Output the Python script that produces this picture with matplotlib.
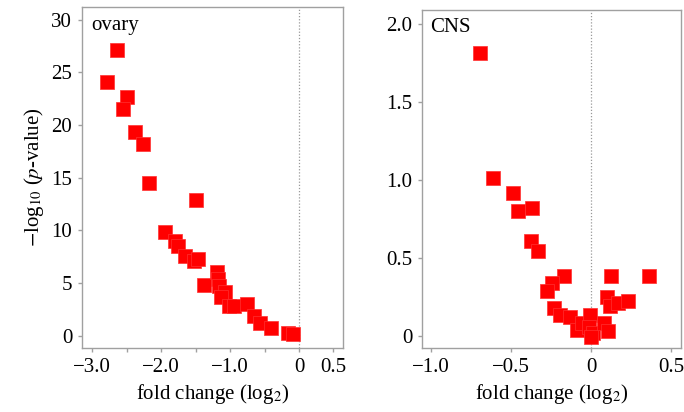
import matplotlib
matplotlib.use("Agg")
import matplotlib.pyplot as plt

plt.rcParams["font.family"] = ["Liberation Serif", "DejaVu Serif"]
plt.rcParams["mathtext.fontset"] = "stix"

# ovary panel
ovary_fc = [-2.64, -2.79, -2.49, -2.56, -2.38, -2.27, -2.18, -1.50,
            -1.94, -1.80, -1.75, -1.65, -1.53, -1.47, -1.38, -1.19,
            -1.17, -1.16, -1.07, -1.13, -1.02, -0.95, -0.75, -0.65,
            -0.57, -0.40, -0.155, -0.08]
ovary_p = [27.1, 24.1, 22.7, 21.5, 19.3, 18.2, 14.5, 12.9,
           9.85, 9.0, 8.5, 7.6, 7.06, 7.3, 4.85, 6.1,
           5.4, 4.7, 4.2, 3.7, 2.85, 2.85, 3.0, 1.9,
           1.27, 0.79, 0.25, 0.19]

# CNS panel
cns_fc = [-0.696, -0.61, -0.49, -0.455, -0.368, -0.379, -0.333, -0.172,
          -0.244, -0.275, -0.234, -0.193, -0.13, -0.089, -0.058, -0.006,
          -0.017, 0.014, 0.0, 0.081, 0.104, 0.122, 0.097, 0.118,
          0.17, 0.232, 0.362]
cns_p = [1.816, 1.01, 0.92, 0.80, 0.82, 0.61, 0.547, 0.385,
         0.338, 0.29, 0.178, 0.135, 0.124, 0.038, 0.081, 0.135,
         0.06, 0.017, -0.004, 0.081, 0.034, 0.385, 0.248, 0.192,
         0.213, 0.226, 0.387]

ovary_xticks = [-3.0, -2.5, -2.0, -1.5, -1.0, -0.5, 0, 0.5]
ovary_xlabels = ["\u22123.0", "", "\u22122.0", "", "\u22121.0", "", "0", "0.5"]
ovary_yticks = [0, 5, 10, 15, 20, 25, 30]
cns_xticks = [-1.0, -0.5, 0, 0.5]
cns_xlabels = ["\u22121.0", "\u22120.5", "0", "0.5"]
cns_yticks = [0, 0.5, 1.0, 1.5, 2.0]
cns_ylabels = ["0", "0.5", "1.0", "1.5", "2.0"]

fig = plt.figure(figsize=(6.84, 4.12), dpi=100)
ax1 = fig.add_axes([0.1199, 0.1553, 0.3816, 0.8277])
ax2 = fig.add_axes([0.617, 0.1553, 0.3786, 0.8204])

grey = "#a0a0a0"
fs = 15


def style(ax):
    for s in ax.spines.values():
        s.set_color(grey)
        s.set_linewidth(1.0)
    ax.tick_params(direction="out", length=3, width=1, color=grey,
                   labelsize=fs, pad=4)
    ax.axvline(0, color="#999999", lw=0.9, ls=(0, (1, 1.5)), zorder=1)


ax1.scatter(ovary_fc, ovary_p, marker="s", s=90, color="#ff0000",
            edgecolors="#ff3030", linewidths=0.5, zorder=3)
ax1.set_xlim(-3.15, 0.64)
ax1.set_ylim(-1.15, 31.2)
ax1.set_xticks(ovary_xticks)
ax1.set_xticklabels(ovary_xlabels)
ax1.set_yticks(ovary_yticks)
ax1.set_xlabel(r"fold change (log$_2$)", fontsize=fs)
ax1.set_ylabel(r"$-$log$_{10}$ ($p$-value)", fontsize=fs, labelpad=4)
ax1.text(0.035, 0.975, "ovary", transform=ax1.transAxes, fontsize=fs,
         va="top", ha="left")
style(ax1)

ax2.scatter(cns_fc, cns_p, marker="s", s=90, color="#ff0000",
            edgecolors="#ff3030", linewidths=0.5, zorder=3)
ax2.set_xlim(-1.056, 0.56)
ax2.set_ylim(-0.077, 2.09)
ax2.set_xticks(cns_xticks)
ax2.set_xticklabels(cns_xlabels)
ax2.set_yticks(cns_yticks)
ax2.set_yticklabels(cns_ylabels)
ax2.set_xlabel(r"fold change (log$_2$)", fontsize=fs)
ax2.text(0.03, 0.975, "CNS", transform=ax2.transAxes, fontsize=fs,
         va="top", ha="left")
style(ax2)

fig.savefig("out.png", dpi=100)
